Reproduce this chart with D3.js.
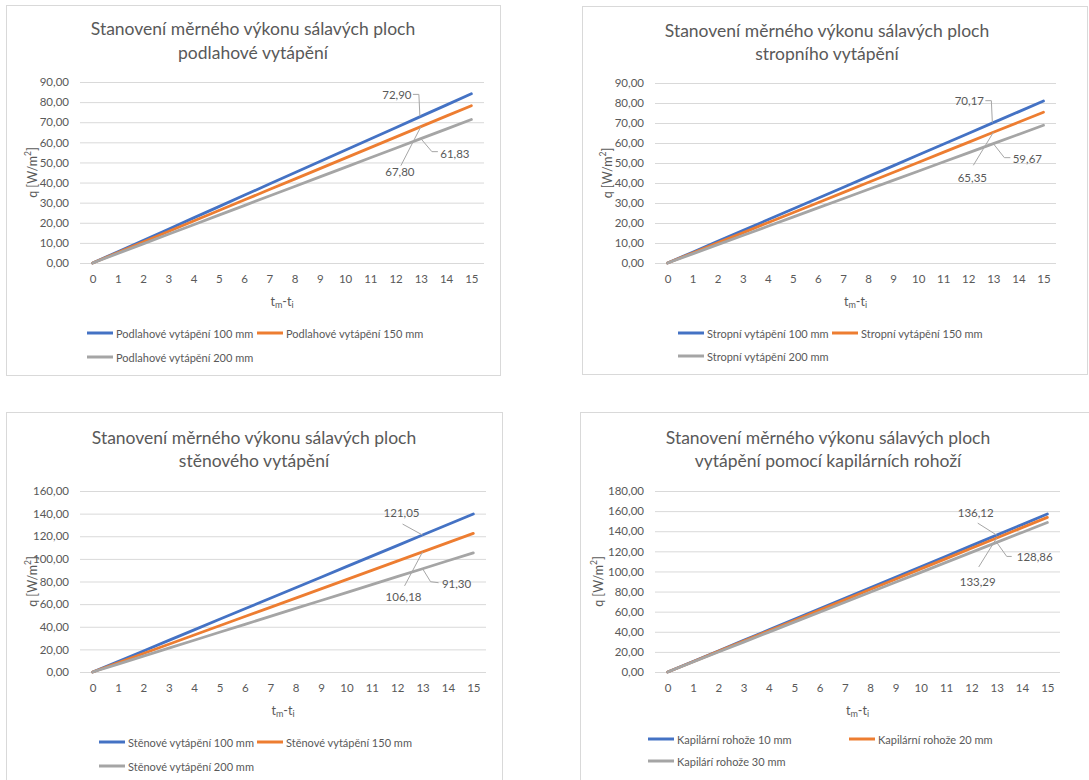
<!DOCTYPE html>
<html><head><meta charset="utf-8">
<script src="https://cdn.jsdelivr.net/npm/d3@7"></script>
<style>
body{margin:0;background:#fff;}
svg{display:block;}
text{font-family:Lato,"Open Sans",sans-serif;fill:#595959;}
</style>
</head><body>
<svg id="c" width="1089" height="780"></svg>
<script>
// ---------- DATA ----------
const xCategories = [0,1,2,3,4,5,6,7,8,9,10,11,12,13,14,15];
const labelIndex = 13;

const titleCommon = "Stanovení měrného výkonu sálavých ploch";
const floorTitle = "podlahové vytápění";
const ceilingTitle = "stropního vytápění";
const wallTitle = "stěnového vytápění";
const capillaryTitle = "vytápění pomocí kapilárních rohoží";

const floorNames = ["Podlahové vytápění 100 mm","Podlahové vytápění 150 mm","Podlahové vytápění 200 mm"];
const floor100 = [0,5.61,11.22,16.82,22.43,28.04,33.65,39.26,44.86,50.47,56.08,61.69,67.29,72.90,78.51,84.12];
const floor150 = [0,5.22,10.43,15.65,20.86,26.08,31.29,36.51,41.72,46.94,52.15,57.37,62.58,67.80,73.02,78.23];
const floor200 = [0,4.76,9.51,14.27,19.02,23.78,28.54,33.29,38.05,42.81,47.56,52.32,57.07,61.83,66.59,71.34];
const floorTicks = [0,10,20,30,40,50,60,70,80,90];

const ceilingNames = ["Stropní vytápění 100 mm","Stropní vytápění 150 mm","Stropní vytápění 200 mm"];
const ceiling100 = [0,5.40,10.80,16.19,21.59,26.99,32.39,37.78,43.18,48.58,53.98,59.37,64.77,70.17,75.57,80.97];
const ceiling150 = [0,5.03,10.05,15.08,20.11,25.13,30.16,35.19,40.22,45.24,50.27,55.30,60.32,65.35,70.38,75.40];
const ceiling200 = [0,4.59,9.18,13.77,18.36,22.95,27.54,32.13,36.72,41.31,45.90,50.49,55.08,59.67,64.26,68.85];
const ceilingTicks = [0,10,20,30,40,50,60,70,80,90];

const wallNames = ["Stěnové vytápění 100 mm","Stěnové vytápění 150 mm","Stěnové vytápění 200 mm"];
const wall100 = [0,9.31,18.62,27.93,37.25,46.56,55.87,65.18,74.49,83.80,93.12,102.43,111.74,121.05,130.36,139.67];
const wall150 = [0,8.17,16.34,24.50,32.67,40.84,49.01,57.17,65.34,73.51,81.68,89.84,98.01,106.18,114.35,122.52];
const wall200 = [0,7.02,14.05,21.07,28.09,35.12,42.14,49.16,56.18,63.21,70.23,77.25,84.28,91.30,98.32,105.35];
const wallTicks = [0,20,40,60,80,100,120,140,160];

const capillaryNames = ["Kapilární rohože 10 mm","Kapilární rohože 20 mm","Kapilárí rohože 30 mm"];
const capillary10 = [0,10.47,20.94,31.41,41.88,52.35,62.82,73.30,83.77,94.24,104.71,115.18,125.65,136.12,146.59,157.06];
const capillary20 = [0,10.25,20.51,30.76,41.01,51.27,61.52,71.77,82.02,92.28,102.53,112.78,123.04,133.29,143.54,153.80];
const capillary30 = [0,9.91,19.82,29.74,39.65,49.56,59.47,69.39,79.30,89.21,99.12,109.04,118.95,128.86,138.77,148.68];
const capillaryTicks = [0,20,40,60,80,100,120,140,160,180];

const seriesColors = ["#4472C4","#ED7D31","#A5A5A5"];

// ---------- LAYOUT ----------
const charts = [
  {title:[titleCommon,floorTitle], names:floorNames, values:[floor100,floor150,floor200], ticks:floorTicks,
   frame:{x:6,y:5,w:494,h:370}, plot:{l:80,r:484,t:82,b:263}, titleX:253, titleY:[28,52], yTitleX:32,
   legend:{row1:333,row2:357,x1:87,x2:257},
   lab:[{t:[-24,-22],p:[[-8,-22],[-2,-22],[-1,0]]},{t:[-21,45],p:[[-20,39],[0,0]]},{t:[34,15],p:[[0,0],[11,13],[17,13]]}]},
  {title:[titleCommon,ceilingTitle], names:ceilingNames, values:[ceiling100,ceiling150,ceiling200], ticks:ceilingTicks,
   frame:{x:582,y:6,w:505,h:368}, plot:{l:655,r:1056,t:83,b:263}, titleX:827, titleY:[30,53], yTitleX:607,
   legend:{row1:333,row2:356,x1:678,x2:832},
   lab:[{t:[-24,-22],p:[[-8,-22],[-2,-22],[-1,0]]},{t:[-21,45],p:[[-20,33],[0,0]]},{t:[34,15],p:[[0,0],[11,14],[17,14]]}]},
  {title:[titleCommon,wallTitle], names:wallNames, values:[wall100,wall150,wall200], ticks:wallTicks,
   frame:{x:6,y:412,w:496,h:380}, plot:{l:80,r:486,t:491,b:672}, titleX:254, titleY:[437,460], yTitleX:32,
   legend:{row1:742,row2:766,x1:99,x2:257},
   lab:[{t:[-21,-23],p:[[-20,-11],[0,0]]},{t:[-19,45],p:[[-18,34],[0,0]]},{t:[34,15],p:[[0,0],[8,13],[16,14]]}]},
  {title:[titleCommon,capillaryTitle], names:capillaryNames, values:[capillary10,capillary20,capillary30], ticks:capillaryTicks,
   frame:{x:580,y:412,w:520,h:380}, plot:{l:655,r:1060,t:491,b:672}, titleX:828, titleY:[437,460], yTitleX:598,
   legend:{row1:739,row2:761,x1:648,x2:849},
   lab:[{t:[-21,-23],p:[[-19,-12],[0,0]]},{t:[-19,44],p:[[-18,29],[0,0]]},{t:[38,14],p:[[0,0],[10,14],[15,14]]}]}
];

const locale = d3.formatLocale({decimal:",", thousands:"\u00a0", grouping:[3], currency:["","Kč"]});
const fmt = locale.format(".2f");

const svg = d3.select("#c");

charts.forEach(cfg => {
  const g = svg.append("g");
  const P = cfg.plot;
  g.append("rect").attr("x",cfg.frame.x+0.5).attr("y",cfg.frame.y+0.5)
    .attr("width",cfg.frame.w).attr("height",cfg.frame.h)
    .attr("fill","#fff").attr("stroke","#D9D9D9");

  // title
  cfg.title.forEach((t,i) => {
    g.append("text").attr("x",cfg.titleX).attr("y",cfg.titleY[i])
      .attr("text-anchor","middle").attr("dominant-baseline","central")
      .style("font-size","17.5px").text(t);
  });

  const x = d3.scalePoint().domain(xCategories).range([P.l,P.r]).padding(0.5);
  const y = d3.scaleLinear().domain([0,d3.max(cfg.ticks)]).range([P.b,P.t]);

  const ya = g.append("g").attr("transform",`translate(${P.l},0)`)
    .call(d3.axisLeft(y).tickValues(cfg.ticks).tickFormat(fmt).tickSize(-(P.r-P.l)).tickPadding(11));
  ya.select(".domain").remove();
  ya.selectAll("line").attr("stroke","#D9D9D9");
  ya.selectAll("text").style("font-size","11.5px").attr("fill","#595959").style("font-family","Lato");

  const xa = g.append("g").attr("transform",`translate(0,${P.b})`)
    .call(d3.axisBottom(x).tickSize(0).tickPadding(12));
  xa.select(".domain").remove();
  xa.selectAll("text").style("font-size","11.5px").attr("fill","#595959").style("font-family","Lato");

  // lines
  const line = d3.line().x((d,i)=>x(xCategories[i])).y(d=>y(d));
  cfg.values.forEach((vals,s) => {
    g.append("path").datum(vals).attr("d",line).attr("fill","none")
      .attr("stroke",seriesColors[s]).attr("stroke-width",2.8).attr("stroke-linejoin","round").attr("stroke-linecap","round");
  });

  // data labels with leader lines
  cfg.values.forEach((vals,s) => {
    const px = x(xCategories[labelIndex]), py = y(vals[labelIndex]);
    const L = cfg.lab[s];
    g.append("path").attr("d", d3.line()(L.p.map(q=>[px+q[0],py+q[1]])))
      .attr("fill","none").attr("stroke","#A6A6A6").attr("stroke-width",1);
    g.append("text").attr("x",px+L.t[0]).attr("y",py+L.t[1])
      .attr("text-anchor","middle").attr("dominant-baseline","central")
      .style("font-size","11.5px").text(fmt(vals[labelIndex]));
  });

  // axis titles
  const xt = g.append("text").attr("x",(P.l+P.r)/2).attr("y",P.b+38)
    .attr("text-anchor","middle").attr("dominant-baseline","central").style("font-size","12.5px");
  xt.append("tspan").text("t");
  xt.append("tspan").attr("dy",3).style("font-size","9px").text("m");
  xt.append("tspan").attr("dy",-3).text("-t");
  xt.append("tspan").attr("dy",3).style("font-size","9px").text("i");

  const yt = g.append("text").attr("transform",`translate(${cfg.yTitleX},${(P.t+P.b)/2}) rotate(-90)`)
    .attr("text-anchor","middle").attr("dominant-baseline","central").style("font-size","12.5px");
  yt.append("tspan").text("q [W/m");
  yt.append("tspan").attr("dy",-4).style("font-size","8.5px").text("2");
  yt.append("tspan").attr("dy",4).text("]");

  // legend
  const pos = [[cfg.legend.x1,cfg.legend.row1],[cfg.legend.x2,cfg.legend.row1],[cfg.legend.x1,cfg.legend.row2]];
  cfg.names.forEach((n,s) => {
    const [lx,ly] = pos[s];
    g.append("line").attr("x1",lx).attr("x2",lx+26).attr("y1",ly).attr("y2",ly)
      .attr("stroke",seriesColors[s]).attr("stroke-width",3);
    g.append("text").attr("x",lx+29).attr("y",ly).attr("dominant-baseline","central")
      .style("font-size","11px").text(n);
  });
});
</script>
</body></html>
